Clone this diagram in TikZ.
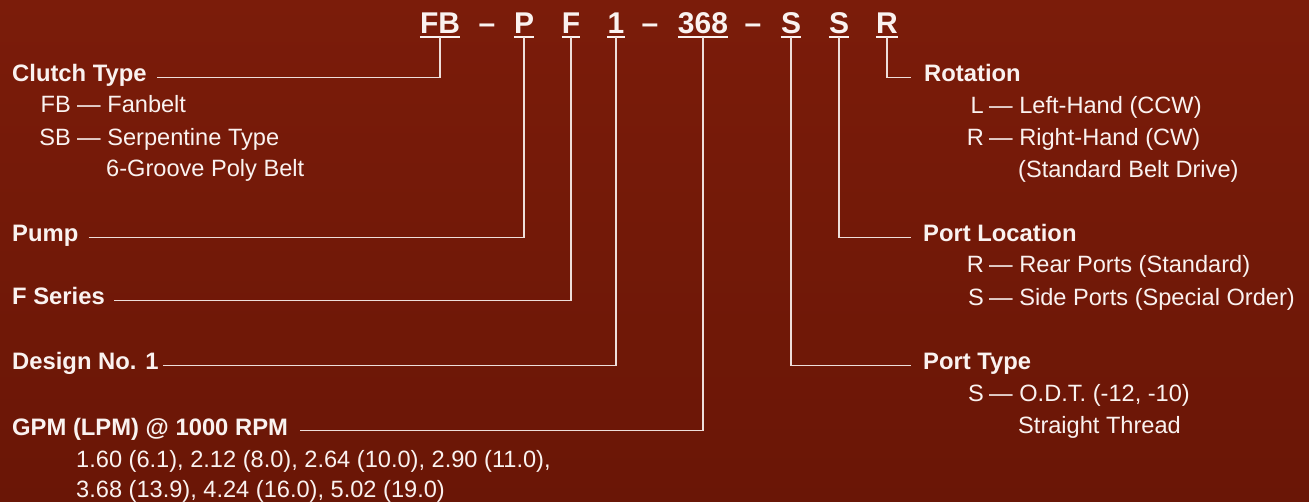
\documentclass[tikz,border=0pt]{standalone}
\usepackage{fontspec}
\setmainfont{Liberation Sans}
\definecolor{fg}{RGB}{250,242,240}
\definecolor{lc}{RGB}{238,222,218}
\definecolor{bgtop}{RGB}{123,28,10}
\definecolor{bgbot}{RGB}{106,22,6}
\begin{document}
\begin{tikzpicture}[x=1pt,y=1pt,
  txt/.style={inner sep=0pt, text=fg, font=\fontsize{23.6}{27}\selectfont},
  hd/.style={inner sep=0pt, text=fg, font=\bfseries\fontsize{23.8}{27}\selectfont},
  ttl/.style={inner sep=0pt, text=fg, font=\bfseries\fontsize{30}{34}\selectfont, anchor=base},
  conn/.style={draw=lc, line width=1.6pt},
  ulin/.style={draw=fg, line width=2pt}]
\shade[top color=bgtop, bottom color=bgbot] (0,0) rectangle (1309,-502);
\useasboundingbox (0,0) rectangle (1309,-502);

% title
\node[ttl] (tFB) at (440,-34) {FB};
\node[ttl] (d1) at (487,-34) {--};
\node[ttl] (tP) at (524,-34) {P};
\node[ttl] (tF) at (571,-34) {F};
\node[ttl] (t1) at (616,-34) {1};
\node[ttl] (d2) at (650,-34) {--};
\node[ttl] (t368) at (703,-34) {368};
\node[ttl] (d3) at (753,-34) {--};
\node[ttl] (tS1) at (791,-34) {S};
\node[ttl] (tS2) at (839,-34) {S};
\node[ttl] (tR) at (887,-34) {R};
\foreach \n in {tFB,tP,tF,t1,t368,tS1,tS2,tR}{
  \draw[ulin] ([yshift=-3.5pt]\n.base west) -- ([yshift=-3.5pt]\n.base east);
  \coordinate (c\n) at ([yshift=-3.5pt]\n.base);
}

% left labels
\node[hd, anchor=base west] (ct) at (12,-82) {Clutch Type};
\node[txt, anchor=base east] (fbc) at (71,-113) {FB};
\node[txt, anchor=base west] (fbd) at (77,-113) {— Fanbelt};
\node[txt, anchor=base east] (sbc) at (71,-146) {SB};
\node[txt, anchor=base west] (sbd) at (77,-146) {— Serpentine Type};
\node[txt, anchor=base west] (sb2) at (106,-177) {6-Groove Poly Belt};
\node[hd, anchor=base west] (pump) at (12,-242) {Pump};
\node[hd, anchor=base west] (fs) at (12,-305) {F Series};
\node[hd, anchor=base west] (dn) at (12,-370) {Design No. 1};
\node[hd, anchor=base west] (gpm) at (12,-435) {GPM (LPM) @ 1000 RPM};
\node[txt, anchor=base west] (v1) at (76,-467) {1.60 (6.1), 2.12 (8.0), 2.64 (10.0), 2.90 (11.0),};
\node[txt, anchor=base west] (v2) at (76,-497) {3.68 (13.9), 4.24 (16.0), 5.02 (19.0)};

% right labels
\node[hd, anchor=base west] (rot) at (924,-82) {Rotation};
\node[txt, anchor=base east] (lco) at (984,-114) {L};
\node[txt, anchor=base west] (lde) at (989,-114) {— Left-Hand (CCW)};
\node[txt, anchor=base east] (rco) at (984,-146) {R};
\node[txt, anchor=base west] (rde) at (989,-146) {— Right-Hand (CW)};
\node[txt, anchor=base west] (rd2) at (1018,-178) {(Standard Belt Drive)};
\node[hd, anchor=base west] (pl) at (923,-242) {Port Location};
\node[txt, anchor=base east] (plr) at (984,-273) {R};
\node[txt, anchor=base west] (plrd) at (989,-273) {— Rear Ports (Standard)};
\node[txt, anchor=base east] (pls) at (984,-306) {S};
\node[txt, anchor=base west] (plsd) at (989,-306) {— Side Ports (Special Order)};
\node[hd, anchor=base west] (pt) at (923,-370) {Port Type};
\node[txt, anchor=base east] (pts) at (984,-402) {S};
\node[txt, anchor=base west] (ptsd) at (989,-402) {— O.D.T. (-12, -10)};
\node[txt, anchor=base west] (pt2) at (1018,-433) {Straight Thread};

% connectors
\draw[conn] ([xshift=10pt,yshift=2pt]ct.mid east) -| (ctFB);
\draw[conn] ([xshift=10pt,yshift=2pt]pump.mid east) -| (ctP);
\draw[conn] ([xshift=9pt,yshift=2pt]fs.mid east) -| (ctF);
\draw[conn] ([xshift=4pt,yshift=2pt]dn.mid east) -| (ct1);
\draw[conn] ([xshift=12pt,yshift=2pt]gpm.mid east) -| (ct368);
\draw[conn] (ctR) |- ([xshift=-13pt,yshift=2pt]rot.mid west);
\draw[conn] (ctS2) |- ([xshift=-12pt,yshift=2pt]pl.mid west);
\draw[conn] (ctS1) |- ([xshift=-12pt,yshift=2pt]pt.mid west);
\end{tikzpicture}
\end{document}
